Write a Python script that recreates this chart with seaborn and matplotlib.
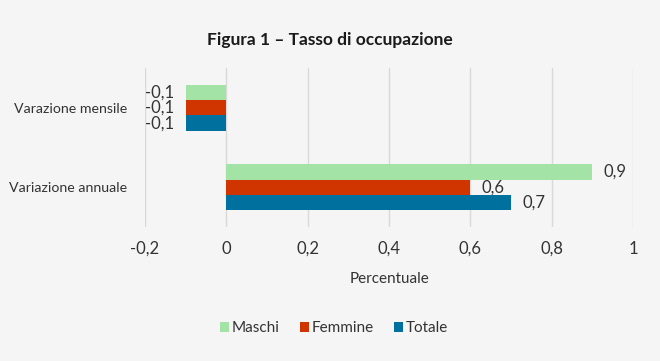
import pandas as pd
import matplotlib
matplotlib.use("Agg")
import matplotlib.pyplot as plt
import seaborn as sns
from matplotlib.ticker import FuncFormatter

# Dati
categorie = ["Varazione mensile", "Variazione annuale"]
serie = ["Maschi", "Femmine", "Totale"]
maschi = [-0.1, 0.9]
femmine = [-0.1, 0.6]
totale = [-0.1, 0.7]
colori = ["#a3e4a6", "#d03500", "#00709e"]

df = pd.DataFrame({
    "categoria": categorie * 3,
    "serie": [s for s in serie for _ in categorie],
    "valore": maschi + femmine + totale,
})

sns.set_style("white")
plt.rcParams["font.family"] = ["Lato", "DejaVu Sans"]

def virgola(v, pos=None):
    if abs(v - round(v)) < 1e-9:
        return f"{int(round(v))}"
    return f"{v:.1f}".replace(".", ",")

fig = plt.figure(figsize=(6.6, 3.61), dpi=100)
fig.patch.set_facecolor("#f5f5f5")
ax = fig.add_axes([0.2197, 0.371, 0.7394, 0.4406])
ax.set_facecolor("#f5f5f5")

sns.barplot(data=df, x="valore", y="categoria", hue="serie", orient="h",
            palette=colori, saturation=1, width=0.58, linewidth=0, ax=ax, legend=True)

for cont in ax.containers:
    ax.bar_label(cont, labels=[virgola(b.get_width()) for b in cont],
                 padding=8, fontsize=12, color="#333333")

ax.set_xlim(-0.2, 1.0)
ax.set_ylim(1.5, -0.5)
ax.set_xticks([-0.2, 0, 0.2, 0.4, 0.6, 0.8, 1.0])
ax.xaxis.set_major_formatter(FuncFormatter(virgola))
ax.grid(axis="x", color="#d9d9d9", linewidth=1)
ax.set_axisbelow(True)
for s in ax.spines.values():
    s.set_visible(False)
ax.tick_params(axis="x", length=0, labelsize=12, colors="#333333", pad=10)
ax.tick_params(axis="y", length=0, labelsize=10.2, colors="#333333", pad=13)
ax.set_ylabel("")
ax.set_xlabel("Percentuale", fontsize=11, color="#333333", labelpad=11)

leg = ax.legend(loc="center", bbox_to_anchor=(0.506, 0.091),
                bbox_transform=fig.transFigure, ncol=3, frameon=False,
                fontsize=11, handlelength=0.6, handleheight=0.6,
                handletextpad=0.2, columnspacing=1.3)
for t in leg.get_texts():
    t.set_color("#333333")

fig.suptitle("Figura 1 – Tasso di occupazione", x=0.5, y=0.91,
             fontsize=12.5, fontweight="bold", color="#1a1a1a")

fig.savefig("out.png", dpi=100, facecolor=fig.get_facecolor())
